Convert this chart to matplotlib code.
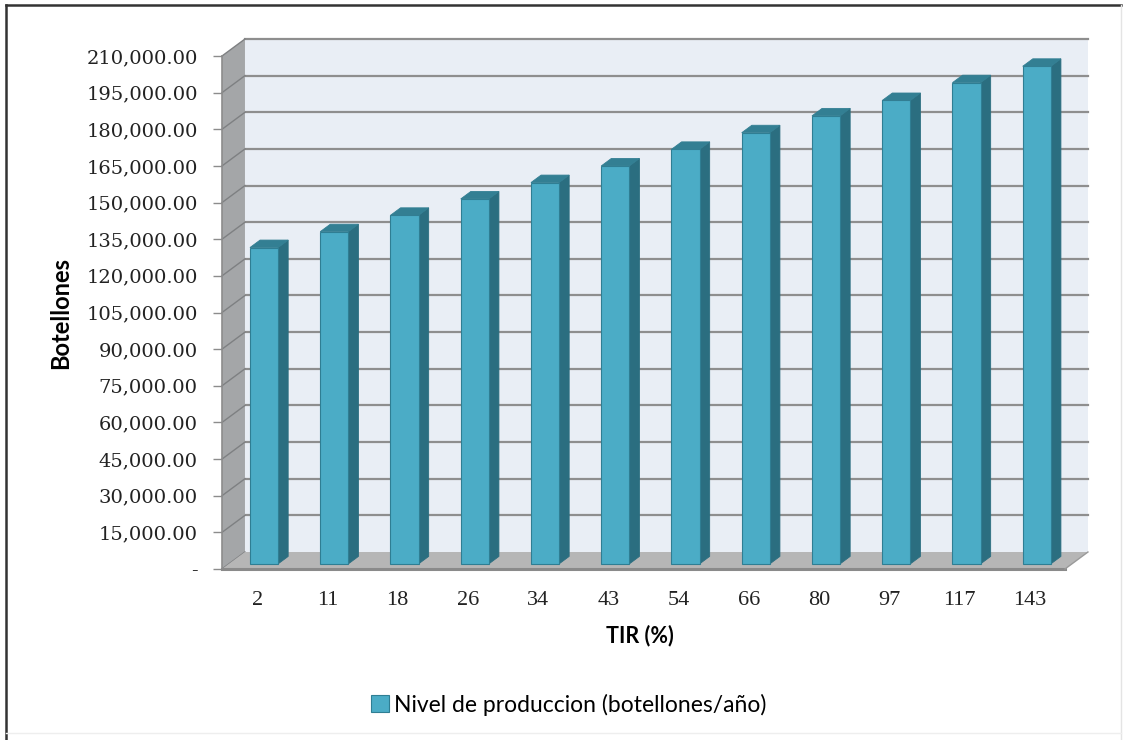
#importing relevant libraries
import numpy as np
import matplotlib.pyplot as plt
from matplotlib.patches import Polygon, Rectangle
from matplotlib.lines import Line2D
from matplotlib.ticker import FuncFormatter

#the data: TIR (%) categories and production level per year
tir = ["2", "11", "18", "26", "34", "43", "54", "66", "80", "97", "117", "143"]
produccion = [129500, 136000, 142700, 149400, 156100, 162900,
              169700, 176500, 183400, 189700, 197000, 203700]
yticks = np.arange(0, 210001, 15000)

#colours of the excel style chart
c_front = "#4BACC6"
c_side = "#2B6E80"
c_top = "#337F93"
c_wall = "#E9EEF5"
c_side_wall = "#A4A6A8"
c_floor = "#B6B6B6"
c_grid = "#8E8E8E"

#depth of the fake 3d box (x in categories, y in data units)
dx = 0.327
dy = 6960
#bars sit between these fractions of the depth
d0, d1 = 0.3, 0.74
bw = 0.4

fig = plt.figure(figsize=(11.27, 7.40), dpi=100)
ax = fig.add_axes([0.19698, 0.23108, 0.748, 0.69324])
ax.set_xlim(-0.5, 11.5)
ax.set_ylim(0, 210000)
ax.patch.set_visible(False)
for s in ["top", "right", "bottom"]:
    ax.spines[s].set_visible(False)
ax.spines["left"].set_color("#8C8C8C")
ax.spines["left"].set_linewidth(1.2)

x0, x1 = -0.5, 11.5
ytop = 210000

#back wall with its gridlines
ax.add_patch(Polygon([(x0 + dx, dy), (x1 + dx, dy), (x1 + dx, ytop + dy), (x0 + dx, ytop + dy)],
                     closed=True, facecolor=c_wall, edgecolor="none", clip_on=False, zorder=0))
for v in yticks[1:]:
    ax.plot([x0 + dx, x1 + dx], [v + dy, v + dy], color=c_grid, lw=1.6, clip_on=False, zorder=1)

#left side wall with diagonal gridlines
ax.add_patch(Polygon([(x0, 0), (x0 + dx, dy), (x0 + dx, ytop + dy), (x0, ytop)],
                     closed=True, facecolor=c_side_wall, edgecolor="none", clip_on=False, zorder=1))
for v in yticks:
    ax.plot([x0, x0 + dx], [v, v + dy], color="#7E8082", lw=1.0, clip_on=False, zorder=2)

#floor
ax.add_patch(Polygon([(x0, 0), (x1, 0), (x1 + dx, dy), (x0 + dx, dy)],
                     closed=True, facecolor=c_floor, edgecolor="none", clip_on=False, zorder=2))
ax.plot([x0, x1], [0, 0], color="#8A8A8A", lw=2.2, clip_on=False, zorder=3)
ax.plot([x1, x1 + dx], [0, dy], color="#9A9A9A", lw=1.0, clip_on=False, zorder=3)

#bars: front face from ax.bar, side and top faces from the same values
xs = np.arange(len(tir))
ax.bar(xs + d0 * dx, produccion, width=bw, bottom=d0 * dy, color=c_front,
       edgecolor="#2F7E93", linewidth=0.8, zorder=5, clip_on=False)
for x, v in zip(xs, produccion):
    xr = x + bw / 2
    xl = x - bw / 2
    side = [(xr + d0 * dx, d0 * dy), (xr + d1 * dx, d1 * dy),
            (xr + d1 * dx, v + d1 * dy), (xr + d0 * dx, v + d0 * dy)]
    top = [(xl + d0 * dx, v + d0 * dy), (xr + d0 * dx, v + d0 * dy),
           (xr + d1 * dx, v + d1 * dy), (xl + d1 * dx, v + d1 * dy)]
    ax.add_patch(Polygon(side, closed=True, facecolor=c_side, edgecolor=c_side,
                         lw=0.6, clip_on=False, zorder=4))
    ax.add_patch(Polygon(top, closed=True, facecolor=c_top, edgecolor=c_top,
                         lw=0.6, clip_on=False, zorder=6))

#ticks and labels
def fmt(v, pos):
    if v == 0:
        return "-"
    return "{:,.2f}".format(v)

ax.set_yticks(yticks)
ax.yaxis.set_major_formatter(FuncFormatter(fmt))
ax.tick_params(axis="y", direction="out", length=6.5, width=1.0, color="#8C8C8C",
               pad=11, labelsize=14)
for t in ax.get_yticklabels():
    t.set_fontfamily("DejaVu Serif")
    t.set_color("#222222")

ax.set_xticks(xs)
ax.set_xticklabels(tir)
ax.tick_params(axis="x", length=0, pad=16, labelsize=16)
for t in ax.get_xticklabels():
    t.set_fontfamily("Liberation Serif")
    t.set_color("#222222")

ax.set_ylabel("Botellones", fontsize=17, fontweight="bold", family="Lato")
ax.yaxis.set_label_coords(-0.178, 0.5)
ax.set_xlabel("TIR (%)", fontsize=15.5, fontweight="bold", family="Lato")
ax.xaxis.set_label_coords(0.496, -0.108)

#legend at the bottom
handle = Rectangle((0, 0), 1, 1, facecolor=c_front, edgecolor="#2F7E93", lw=0.8)
fig.legend([handle], ["Nivel de produccion (botellones/año)"], loc="center",
           bbox_to_anchor=(0.505, 0.048), frameon=False, handlelength=0.75, handleheight=0.75,
           handletextpad=0.25, prop={"family": "Lato", "size": 16.5})

#frame around the chart
fig.add_artist(Line2D([0.005, 0.995], [0.993, 0.993], color="#333333", lw=1.8,
                      transform=fig.transFigure))
fig.add_artist(Line2D([0.005, 0.005], [0.0, 0.993], color="#333333", lw=1.8,
                      transform=fig.transFigure))
fig.add_artist(Line2D([0.995, 0.995], [0.0, 0.993], color="#E4E4E4", lw=1.0,
                      transform=fig.transFigure))
fig.add_artist(Line2D([0.005, 0.995], [0.009, 0.009], color="#EEEEEE", lw=1.0,
                      transform=fig.transFigure))

fig.savefig("out.png", dpi=100)
